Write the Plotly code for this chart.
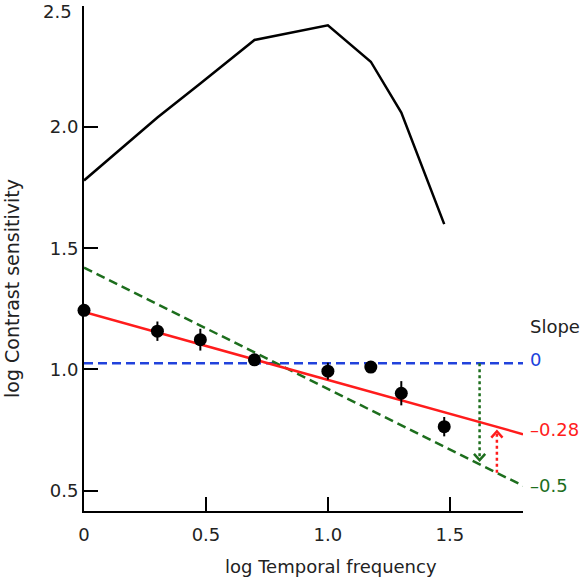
import numpy as np
import plotly.graph_objects as go

# ---- data ----
log_freq = [0.0, 0.301, 0.477, 0.699, 1.0, 1.176, 1.301, 1.477]
black_curve = [1.78, 2.04, 2.18, 2.36, 2.42, 2.27, 2.06, 1.60]
dot_values = [1.244, 1.158, 1.123, 1.040, 0.993, 1.010, 0.902, 0.764]
dot_errors = [0.0, 0.04, 0.045, 0.0, 0.035, 0.0, 0.05, 0.04]

line_x = [0.0, 1.8]
slope_labels = ["0", "\u20130.28", "\u20130.5"]
slopes = [0.0, -0.28, -0.5]
intercepts = [1.026, 1.237, 1.42]
line_colors = ["#2142dc", "#ff1c1c", "#1d6e1d"]
line_dashes = ["9px,5px", "solid", "9px,5px"]

green_arrow_x = 1.622
green_arrow_tip = 0.626
red_arrow_x = 1.693
red_arrow_tip = 0.745

x_tickvals = [0, 0.5, 1.0, 1.5]
x_ticktext = ["0", "0.5", "1.0", "1.5"]
y_tickvals = [0.5, 1.0, 1.5, 2.0, 2.5]
y_ticktext = ["0.5", "1.0", "1.5", "2.0", "2.5"]

FONT = "DejaVu Sans"
TEXT = "#222222"

fig = go.Figure()

# black curve
fig.add_trace(go.Scatter(x=log_freq, y=black_curve, mode="lines",
                         line=dict(color="black", width=2.5), showlegend=False))

# fitted lines
def at(i, x):
    return intercepts[i] + slopes[i] * x

for i in [0, 2, 1]:
    fig.add_trace(go.Scatter(x=line_x, y=[at(i, x) for x in line_x], mode="lines",
                             line=dict(color=line_colors[i], width=2.5, dash=line_dashes[i]),
                             showlegend=False))

ahw = 0.023  # half width of head in x units
ahh = 0.026  # head height in y units
# green arrow: from blue line down to green line
fig.add_trace(go.Scatter(x=[green_arrow_x, green_arrow_x], y=[at(0, green_arrow_x), green_arrow_tip],
                         mode="lines", line=dict(color=line_colors[2], width=2.5, dash="3px,3px"),
                         showlegend=False))
fig.add_trace(go.Scatter(x=[green_arrow_x - ahw, green_arrow_x, green_arrow_x + ahw],
                         y=[green_arrow_tip + ahh, green_arrow_tip, green_arrow_tip + ahh],
                         mode="lines", line=dict(color=line_colors[2], width=2.5), showlegend=False))
# red arrow: from green line up to red line
fig.add_trace(go.Scatter(x=[red_arrow_x, red_arrow_x], y=[at(2, red_arrow_x), red_arrow_tip],
                         mode="lines", line=dict(color=line_colors[1], width=2.5, dash="3px,3px"),
                         showlegend=False))
fig.add_trace(go.Scatter(x=[red_arrow_x - ahw, red_arrow_x, red_arrow_x + ahw],
                         y=[red_arrow_tip - ahh, red_arrow_tip, red_arrow_tip - ahh],
                         mode="lines", line=dict(color=line_colors[1], width=2.5), showlegend=False))

# data dots
fig.add_trace(go.Scatter(x=log_freq, y=dot_values, mode="markers",
                         marker=dict(color="black", size=13),
                         error_y=dict(type="data", array=dot_errors, visible=True,
                                      thickness=2, width=0, color="black"),
                         cliponaxis=False, showlegend=False))

annotations = []
label_x = 1.012  # paper coords, just right of the axis end
annotations.append(dict(x=label_x, y=1.177, xref="paper", yref="y", text="Slope",
                        showarrow=False, xanchor="left", yanchor="middle",
                        font=dict(family=FONT, size=18, color=TEXT)))
label_y = [1.040, 0.752, 0.523]
for i in range(3):
    annotations.append(dict(x=label_x, y=label_y[i], xref="paper", yref="y", text=slope_labels[i],
                            showarrow=False, xanchor="left", yanchor="middle",
                            font=dict(family=FONT, size=18, color=line_colors[i])))
# top y tick label, nudged down so it stays inside the picture
annotations.append(dict(x=-0.0228, y=0.990, xref="paper", yref="paper",
                        text=y_ticktext[-1], showarrow=False,
                        xanchor="right", yanchor="middle",
                        font=dict(family=FONT, size=18, color=TEXT)))
# axis titles
annotations.append(dict(x=0.563, y=-0.109, xref="paper", yref="paper",
                        text="log Temporal frequency", showarrow=False,
                        xanchor="center", yanchor="middle",
                        font=dict(family=FONT, size=18, color=TEXT)))
annotations.append(dict(x=-0.164, y=0.4396, xref="paper", yref="paper",
                        text="log Contrast sensitivity", showarrow=False, textangle=-90,
                        xanchor="center", yanchor="middle",
                        font=dict(family=FONT, size=19, color=TEXT)))

y_ticktext_axis = y_ticktext[:-1] + [""]

fig.update_layout(
    width=582, height=582,
    margin=dict(l=84, r=59, t=6, b=71, autoexpand=False),
    paper_bgcolor="white", plot_bgcolor="white",
    font=dict(family=FONT, size=18, color=TEXT),
    annotations=annotations,
    xaxis=dict(range=[0, 1.8], showgrid=False, zeroline=False, automargin=False,
               showline=True, linecolor="black", linewidth=2,
               ticks="inside", ticklen=14, tickwidth=2, tickcolor="black",
               tickvals=x_tickvals, ticktext=x_ticktext, ticklabeloverflow="allow",
               ticklabelstandoff=6,
               tickfont=dict(family=FONT, size=18, color=TEXT)),
    yaxis=dict(range=[0.416, 2.5], showgrid=False, zeroline=False, automargin=False,
               showline=True, linecolor="black", linewidth=2,
               ticks="inside", ticklen=14, tickwidth=2, tickcolor="black",
               tickvals=y_tickvals, ticktext=y_ticktext_axis, ticklabeloverflow="allow",
               tickfont=dict(family=FONT, size=18, color=TEXT)),
)

fig.write_html("out.html", config={"displayModeBar": False},
               post_script="document.body.style.margin='0px';document.body.style.overflow='hidden';")
